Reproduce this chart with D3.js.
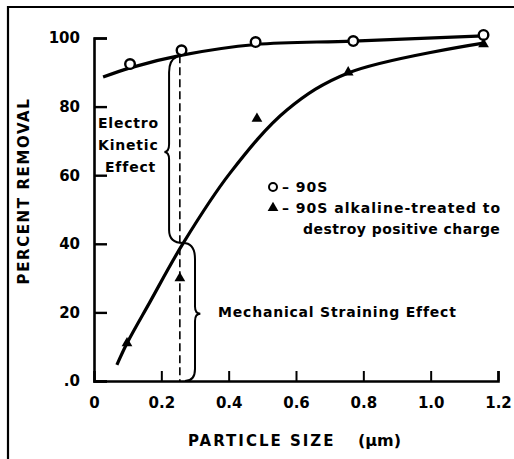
<!DOCTYPE html>
<html>
<head>
<meta charset="utf-8">
<script src="https://cdn.jsdelivr.net/npm/d3@7"></script>
<style>
  body { margin: 0; background: #fff; }
  svg { display: block; font-family: "DejaVu Sans", sans-serif; font-weight: bold; }
</style>
</head>
<body>
<svg id="chart" width="514" height="459"></svg>
<script>
// measured points, untreated filter (90S)
const sizes90S = [0.107, 0.26, 0.48, 0.77, 1.157];
const removal90S = [92.4, 96.4, 98.8, 99.1, 100.9];
// alkaline-treated filter
const sizesTreated = [0.098, 0.255, 0.484, 0.755, 1.157];
const removalTreated = [11, 30, 76.5, 90, 98.2];
// fitted curves
const fit90SX = [0.027, 0.107, 0.261, 0.481, 0.769, 1.157];
const fit90SY = [88.6, 91.3, 95, 98.1, 99.1, 100.6];
const fitTreatedX = [0.068, 0.098, 0.166, 0.265, 0.404, 0.573, 0.755, 1.157];
const fitTreatedY = [4.7, 11, 23, 40.2, 60.6, 79, 89.8, 98.5];
// axis ticks
const xTicks = [0, 0.2, 0.4, 0.6, 0.8, 1.0, 1.2];
const xTickLabels = ["0", "0.2", "0.4", "0.6", "0.8", "1.0", "1.2"];
const yTicks = [0, 20, 40, 60, 80, 100];
const yTickLabels = [".0", "20", "40", "60", "80", "100"];
// dashed marker and braces, in data units
const markerSize = 0.255;
const crossing = [0.265, 40.2];

const svg = d3.select("#chart");
const x = d3.scaleLinear().domain([0, 1.2]).range([94, 498]);
const y = d3.scaleLinear().domain([0, 100]).range([381, 38]);

// page frame (top and left edges only)
svg.append("path")
    .attr("d", "M8,459V7H514")
    .attr("fill", "none")
    .attr("stroke", "#000")
    .attr("stroke-width", 2.2);

// axes
const xAxis = svg.append("g")
    .attr("transform", `translate(0,${y(0)})`)
    .call(d3.axisBottom(x).tickValues(xTicks)
        .tickFormat((d, i) => xTickLabels[i])
        .tickSizeInner(-10).tickSizeOuter(-10).tickPadding(16));
xAxis.select(".domain").attr("stroke-width", 2.6);
xAxis.selectAll(".tick line").attr("stroke-width", 2);
xAxis.selectAll(".tick").filter(d => d === 0).select("line").remove();
xAxis.selectAll("text")
    .style("font-family", "DejaVu Sans")
    .style("font-weight", "bold")
    .style("font-size", "15px");

const yAxis = svg.append("g")
    .attr("transform", `translate(${x(0)},0)`)
    .call(d3.axisLeft(y).tickValues(yTicks)
        .tickFormat((d, i) => yTickLabels[i])
        .tickSizeInner(-13).tickSizeOuter(-13).tickPadding(14));
yAxis.select(".domain").attr("stroke-width", 2.6);
yAxis.selectAll(".tick line").attr("stroke-width", 2.4);
yAxis.selectAll("text")
    .style("font-family", "DejaVu Sans")
    .style("font-weight", "bold")
    .style("font-size", "15px");

// axis titles
svg.append("text")
    .attr("x", 188).attr("y", 446)
    .style("font-size", "15px")
    .style("letter-spacing", "2px")
    .text("PARTICLE SIZE");
svg.append("text")
    .attr("x", 358).attr("y", 446)
    .style("font-size", "16px")
    .text("(\u03bcm)");
svg.append("text")
    .attr("transform", "translate(29,191) rotate(-90)")
    .attr("text-anchor", "middle")
    .style("font-size", "15px")
    .style("letter-spacing", "1.6px")
    .text("PERCENT REMOVAL");

// dashed line at the crossover size
svg.append("line")
    .attr("x1", x(markerSize)).attr("x2", x(markerSize))
    .attr("y1", y(95)).attr("y2", y(0))
    .attr("stroke", "#000")
    .attr("stroke-width", 1.6)
    .attr("stroke-dasharray", "8,4");

// braces
function brace(pts) {
    const p = d3.path();
    p.moveTo(x(pts[0][0]), y(pts[0][1]));
    for (let i = 1; i < pts.length; i += 2) {
        p.quadraticCurveTo(x(pts[i][0]), y(pts[i][1]), x(pts[i + 1][0]), y(pts[i + 1][1]));
    }
    return p.toString();
}
const bx = 0.223, bx2 = 0.300;
svg.append("path")
    .attr("d", brace([
        [0.247, 94.6], [bx, 93.6], [bx, 90],
        [bx, 79], [bx, 69], [bx, 66.8], [0.209, 66.8], [bx, 66.8], [bx, 64.6],
        [bx, 55], [bx, 44], [bx, 40.2], crossing
    ]))
    .attr("fill", "none").attr("stroke", "#000").attr("stroke-width", 2);
svg.append("path")
    .attr("d", brace([
        crossing, [bx2, 40.2], [bx2, 35.5],
        [bx2, 28], [bx2, 21.7], [bx2, 19.6], [0.316, 19.6], [bx2, 19.6], [bx2, 17.5],
        [bx2, 10], [bx2, 3.5], [bx2, 0], [0.27, 0]
    ]))
    .attr("fill", "none").attr("stroke", "#000").attr("stroke-width", 2);

// fitted curves
const line = d3.line().x(d => x(d[0])).y(d => y(d[1])).curve(d3.curveCatmullRom.alpha(0.5));
svg.append("path")
    .attr("d", line(d3.zip(fit90SX, fit90SY)))
    .attr("fill", "none").attr("stroke", "#000").attr("stroke-width", 3.2);
svg.append("path")
    .attr("d", line(d3.zip(fitTreatedX, fitTreatedY)))
    .attr("fill", "none").attr("stroke", "#000").attr("stroke-width", 3.2);

// markers
const tri = d3.symbol().type(d3.symbolTriangle).size(50);
svg.selectAll(".tri")
    .data(d3.zip(sizesTreated, removalTreated))
    .join("path")
    .attr("class", "tri")
    .attr("d", tri)
    .attr("transform", d => `translate(${x(d[0])},${y(d[1])})`)
    .attr("fill", "#000");
svg.selectAll(".circ")
    .data(d3.zip(sizes90S, removal90S))
    .join("circle")
    .attr("class", "circ")
    .attr("cx", d => x(d[0])).attr("cy", d => y(d[1]))
    .attr("r", 4.8)
    .attr("fill", "#fff").attr("stroke", "#000").attr("stroke-width", 2.4);

// annotations
const ann = svg.append("g").style("font-size", "14px").style("letter-spacing", "0.8px");
ann.append("text").attr("x", 98).attr("y", 128).text("Electro");
ann.append("text").attr("x", 98).attr("y", 150).text("Kinetic");
ann.append("text").attr("x", 105).attr("y", 172).text("Effect");
ann.append("text").attr("x", 218).attr("y", 317).text("Mechanical Straining Effect");

// legend
const legend = svg.append("g").style("font-size", "14px").style("letter-spacing", "1px");
legend.append("circle").attr("cx", 273).attr("cy", 187).attr("r", 4)
    .attr("fill", "#fff").attr("stroke", "#000").attr("stroke-width", 2);
legend.append("path").attr("d", tri).attr("transform", "translate(273,208)");
legend.append("text").attr("x", 282).attr("y", 192).text("\u2013 90S");
legend.append("text").attr("x", 282).attr("y", 213).text("\u2013 90S alkaline-treated to");
legend.append("text").attr("x", 303).attr("y", 234).style("letter-spacing", "0.45px")
    .text("destroy positive charge");
</script>
</body>
</html>
